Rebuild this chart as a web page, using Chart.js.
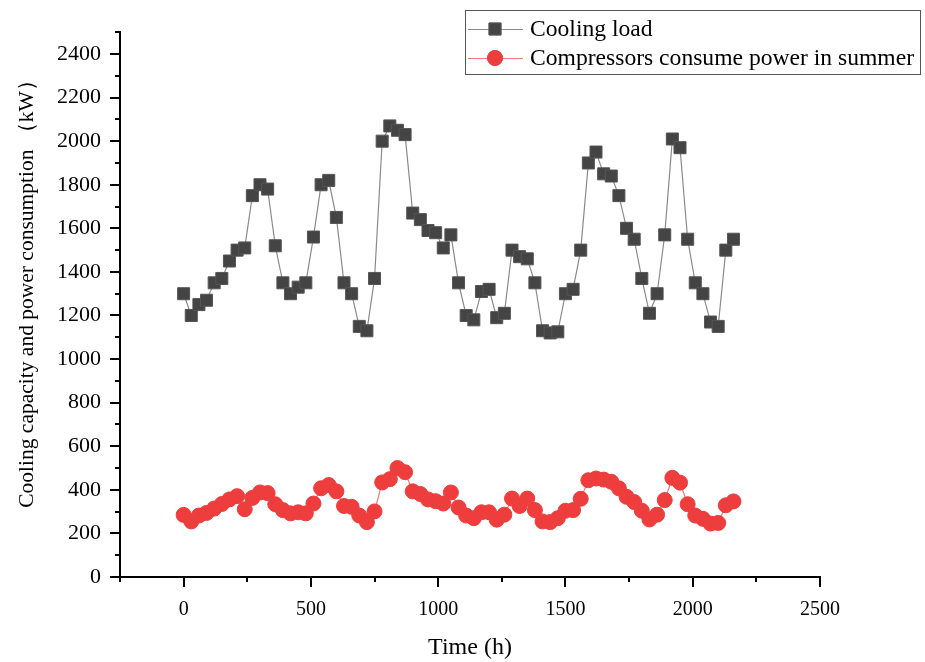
<!DOCTYPE html>
<html>
<head>
<meta charset="utf-8">
<script src="https://cdn.jsdelivr.net/npm/chart.js@4/dist/chart.umd.min.js"></script>
<style>
html,body{margin:0;padding:0;background:#fff;}
#wrap{width:925px;height:662px;position:relative;}
</style>
</head>
<body>
<div id="wrap"><canvas id="c" width="925" height="662"></canvas></div>
<script>
// ---- data ----
const hours = [0,30,60,90,120,150,180,210,240,270,300,330,360,390,420,450,480,510,540,570,600,630,660,690,720,750,780,810,840,870,900,930,960,990,1020,1050,1080,1110,1140,1170,1200,1230,1260,1290,1320,1350,1380,1410,1440,1470,1500,1530,1560,1590,1620,1650,1680,1710,1740,1770,1800,1830,1860,1890,1920,1950,1980,2010,2040,2070,2100,2130,2160];
const coolingLoad = [1300,1200,1250,1270,1350,1370,1450,1500,1510,1750,1800,1780,1520,1350,1300,1330,1350,1560,1800,1820,1650,1350,1300,1150,1130,1370,2000,2070,2050,2030,1670,1640,1590,1580,1510,1570,1350,1200,1180,1310,1320,1190,1210,1500,1470,1460,1350,1130,1120,1125,1300,1320,1500,1900,1950,1850,1840,1750,1600,1550,1370,1210,1300,1570,2010,1970,1550,1350,1300,1170,1150,1500,1550];
const compressorPower = [285,255,282,294,314,335,356,371,311,363,388,385,334,307,292,297,292,337,407,422,393,326,322,282,252,301,434,449,500,481,393,381,356,348,337,388,319,282,270,297,297,263,286,360,326,360,307,255,252,270,304,307,359,444,452,447,437,407,368,344,304,264,286,353,455,433,334,282,267,245,248,329,347];
const seriesNames = ['Cooling load', 'Compressors consume power in summer'];
const xTicksMajor = [0,500,1000,1500,2000,2500];
const yTicksMajor = [0,200,400,600,800,1000,1200,1400,1600,1800,2000,2200,2400];

const SERIF = '"Liberation Serif","Times New Roman",serif';

// draws major/minor tick marks outward, from the scales' own ticks
const tickMarks = {
  id: 'tickMarks',
  afterDraw(chart) {
    const ctx = chart.ctx;
    const xs = chart.scales.x, ys = chart.scales.y;
    ctx.save();
    ctx.strokeStyle = '#000';
    ctx.lineCap = 'butt';
    xs.ticks.forEach(t => {
      const px = Math.round(xs.getPixelForValue(t.value));
      const major = xTicksMajor.includes(t.value);
      ctx.lineWidth = 2;
      ctx.beginPath();
      ctx.moveTo(px, xs.top);
      ctx.lineTo(px, xs.top + (major ? 10 : 5));
      ctx.stroke();
    });
    ys.ticks.forEach(t => {
      const py = Math.round(ys.getPixelForValue(t.value));
      const major = yTicksMajor.includes(t.value);
      ctx.lineWidth = 2;
      ctx.beginPath();
      ctx.moveTo(ys.right, py);
      ctx.lineTo(ys.right - (major ? 10 : 5), py);
      ctx.stroke();
    });
    ctx.restore();
  }
};

// legend box drawn inside the plot (top right)
const boxLegend = {
  id: 'boxLegend',
  afterDraw(chart) {
    const ctx = chart.ctx;
    ctx.save();
    const bx = 465, by = 10, bw = 455, bh = 64;
    ctx.fillStyle = '#fff';
    ctx.fillRect(bx, by, bw, bh);
    ctx.strokeStyle = '#555';
    ctx.lineWidth = 1;
    ctx.strokeRect(bx + 0.5, by + 0.5, bw, bh);
    const rows = [29, 58];
    chart.data.datasets.forEach((ds, i) => {
      const y = rows[i];
      ctx.strokeStyle = ds.borderColor;
      ctx.lineWidth = 1;
      ctx.beginPath();
      ctx.moveTo(468, y + 0.5);
      ctx.lineTo(523, y + 0.5);
      ctx.stroke();
      Chart.helpers.drawPoint(ctx, {
        pointStyle: ds.pointStyle,
        radius: ds.pointRadius,
        borderWidth: 1,
        rotation: 0
      }, 495, y);
      ctx.fillStyle = ds.pointBackgroundColor;
      ctx.strokeStyle = ds.pointBorderColor;
      ctx.fill();
      ctx.stroke();
      ctx.fillStyle = '#000';
      ctx.font = '23.6px ' + SERIF;
      ctx.textBaseline = 'middle';
      ctx.textAlign = 'left';
      ctx.fillText(ds.label, 530, y + 1);
    });
    ctx.restore();
  }
};

const toPoints = (xs, ys) => xs.map((x, i) => ({x: x, y: ys[i]}));

new Chart(document.getElementById('c'), {
  type: 'line',
  data: {
    datasets: [
      {
        label: seriesNames[0],
        data: toPoints(hours, coolingLoad),
        borderColor: '#8a8a8a',
        borderWidth: 1.2,
        pointStyle: 'rect',
        pointRadius: 8.5,
        pointBackgroundColor: '#444444',
        pointBorderColor: '#555555',
        pointBorderWidth: 1,
        tension: 0
      },
      {
        label: seriesNames[1],
        data: toPoints(hours, compressorPower),
        borderColor: '#f07a7a',
        borderWidth: 1.2,
        pointStyle: 'circle',
        pointRadius: 7.5,
        pointBackgroundColor: '#ee3d3d',
        pointBorderColor: '#ee3d3d',
        pointBorderWidth: 1,
        tension: 0
      }
    ]
  },
  options: {
    responsive: false,
    animation: false,
    events: [],
    layout: { padding: { top: 12, right: 105, bottom: 0, left: 0 } },
    plugins: { legend: { display: false }, tooltip: { enabled: false } },
    scales: {
      x: {
        type: 'linear',
        min: -250, max: 2500,
        border: { display: true, color: '#000', width: 2 },
        grid: { display: true, drawOnChartArea: false, drawTicks: false },
        ticks: {
          stepSize: 250,
          autoSkip: false,
          maxRotation: 0,
          padding: 21,
          color: '#000',
          font: { family: SERIF, size: 20 },
          callback: v => xTicksMajor.includes(v) ? String(v) : ''
        },
        title: {
          display: true,
          text: 'Time (h)',
          color: '#000',
          font: { family: SERIF, size: 24, lineHeight: 1 },
          padding: { top: 0, bottom: 2 }
        },
        afterFit: s => { s.height = 85; }
      },
      y: {
        type: 'linear',
        min: 0, max: 2500,
        border: { display: true, color: '#000', width: 2 },
        grid: { display: true, drawOnChartArea: false, drawTicks: false },
        ticks: {
          stepSize: 100,
          autoSkip: false,
          padding: 19,
          color: '#000',
          font: { family: SERIF, size: 22 },
          callback: v => yTicksMajor.includes(v) ? String(v) : ''
        },
        title: {
          display: true,
          text: '      Cooling capacity and power consumption （kW）',
          color: '#000',
          font: { family: SERIF, size: 21.5, lineHeight: 1 },
          padding: { top: 17, bottom: 0 }
        },
        afterFit: s => { s.width = 120; }
      }
    }
  },
  plugins: [tickMarks, boxLegend]
});
</script>
</body>
</html>
